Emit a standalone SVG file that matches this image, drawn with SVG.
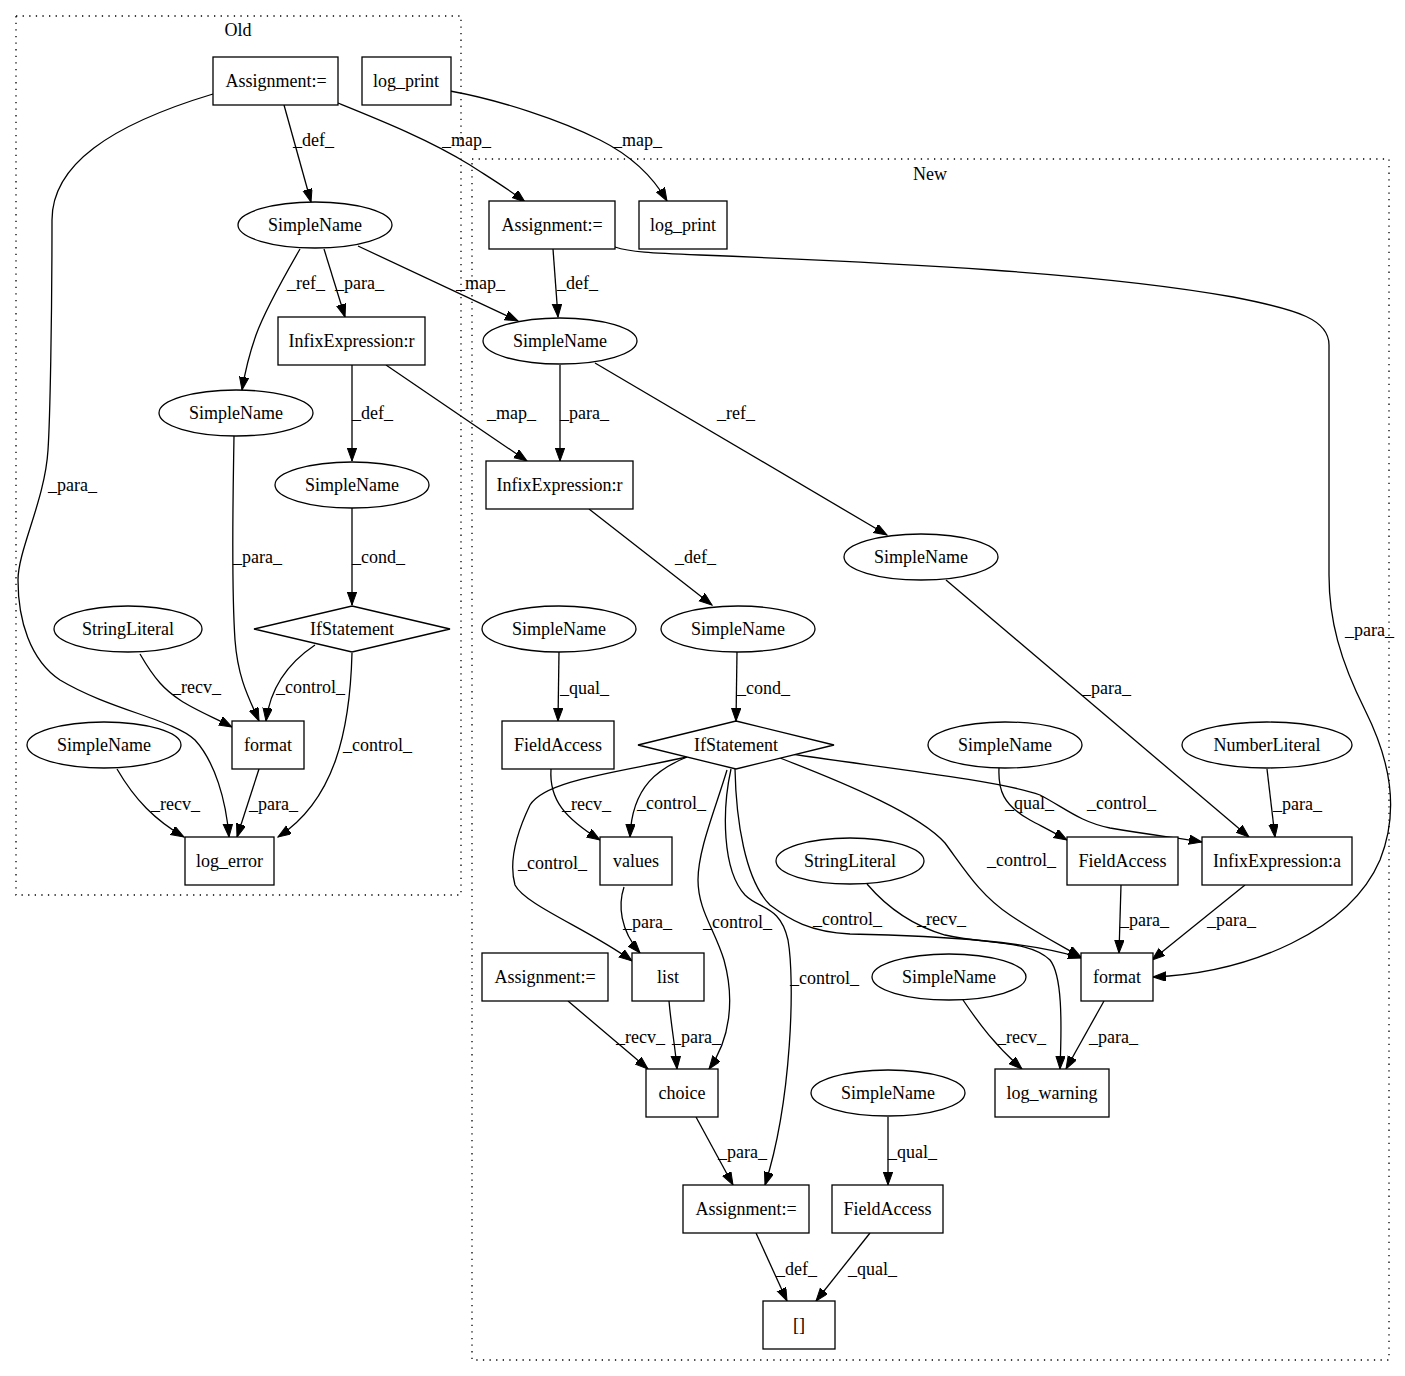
<svg xmlns="http://www.w3.org/2000/svg" width="1405" height="1376" viewBox="0 0 1405 1376">
<defs>
<marker id="ah" markerUnits="userSpaceOnUse" markerWidth="14" markerHeight="11" refX="13" refY="4.7" orient="auto">
<path d="M0,0 L13,4.7 L0,9.4 z" fill="#000" stroke="#000" stroke-width="1"/>
</marker>
</defs>
<style>
text{font-family:"Liberation Serif","Times New Roman",serif;font-size:18px;fill:#000}
.n text{text-anchor:middle}
.n rect,.n ellipse,.n polygon{fill:#fff;stroke:#000;stroke-width:1.3}
.cl{fill:none;stroke:#000;stroke-width:1.3;stroke-dasharray:1.3,5.3}
#edges path{fill:none;stroke:#000;stroke-width:1.3;marker-end:url(#ah)}
</style>
<rect width="1405" height="1376" fill="#fff"/>
<g id="cluster-old"><rect class="cl" x="16" y="16" width="445" height="879"/><text x="238" y="36" text-anchor="middle">Old</text></g>
<g id="cluster-new"><rect class="cl" x="472" y="159" width="917" height="1201"/><text x="930" y="180" text-anchor="middle">New</text></g>

<g id="edges">
<path d="M284,105 L311,202"/><text x="293" y="146">_def_</text>
<path d="M213,94 C110,125 52,165 52,220 C52,320 50,420 48,450 C45,500 18,550 18,580 C18,620 30,660 60,680 C110,710 175,720 195,740 C215,762 226,800 229,837"/><text x="48" y="491">_para_</text>
<path d="M338,103 C380,120 430,140 470,165 C490,178 510,190 525,202"/><text x="442" y="146">_map_</text>
<path d="M450,91 C500,100 560,120 600,140 C630,155 652,175 667,201"/><text x="613" y="146">_map_</text>
<path d="M358,246 L518,321"/><text x="456" y="289">_map_</text>
<path d="M324,249 L345,317"/><text x="335" y="289">_para_</text>
<path d="M300,249 C285,275 265,310 256,335 C250,352 245,372 242,390"/><text x="287" y="289">_ref_</text>
<path d="M352,365 L352,461"/><text x="352" y="419">_def_</text>
<path d="M386,365 L527,461"/><text x="487" y="419">_map_</text>
<path d="M234,436 C233,500 231,580 235,640 C238,680 250,700 259,721"/><text x="233" y="563">_para_</text>
<path d="M352,508 L352,605"/><text x="352" y="563">_cond_</text>
<path d="M140,654 C155,680 165,690 180,700 C195,710 215,718 232,727"/><text x="172" y="693">_recv_</text>
<path d="M315,645 C285,665 270,690 266,721"/><text x="276" y="693">_control_</text>
<path d="M352,653 C350,730 335,800 278,837"/><text x="343" y="751">_control_</text>
<path d="M117,769 C135,800 155,820 184,837"/><text x="151" y="810">_recv_</text>
<path d="M259,769 L237,837"/><text x="249" y="810">_para_</text>

<path d="M553,249 L558,317"/><text x="557" y="289">_def_</text>
<path d="M615,247 C630,252 650,253 700,255 C900,263 1100,273 1233,297 C1300,310 1329,320 1329,345 L1329,575 C1329,620 1340,660 1365,710 C1390,760 1400,810 1380,860 C1350,930 1250,973 1153,977"/><text x="1345" y="636">_para_</text>
<path d="M560,365 L560,461"/><text x="560" y="419">_para_</text>
<path d="M595,363 L887,535"/><text x="717" y="419">_ref_</text>
<path d="M589,509 L712,605"/><text x="675" y="563">_def_</text>
<path d="M946,580 L1249,837"/><text x="1082" y="694">_para_</text>
<path d="M559,652 L558,721"/><text x="560" y="694">_qual_</text>
<path d="M737,652 L736,721"/><text x="737" y="694">_cond_</text>
<path d="M551,769 C549,800 565,818 600,840"/><text x="562" y="810">_recv_</text>
<path d="M687,757 C660,768 632,785 630,837"/><text x="637" y="809">_control_</text>
<path d="M687,757 C620,772 545,780 530,805 C518,830 508,860 515,885 C525,905 590,930 632,961"/><text x="518" y="869">_control_</text>
<path d="M624,887 C618,905 620,930 640,953"/><text x="623" y="928">_para_</text>
<path d="M727,770 C715,810 698,850 698,880 C698,910 715,930 724,960 C735,1000 730,1040 709,1069"/><text x="703" y="928">_control_</text>
<path d="M731,769 C722,810 722,870 745,895 C760,910 780,905 788,940 C795,980 792,1100 765,1185"/><text x="790" y="984">_control_</text>
<path d="M735,769 C736,820 745,880 770,905 C790,920 810,932 850,934 C950,936 1030,942 1081,958"/><text x="813" y="925">_control_</text>
<path d="M780,758 C850,785 920,815 945,843 C965,870 980,895 1010,915 C1035,932 1060,945 1081,957"/><text x="987" y="866">_control_</text>
<path d="M792,754 C860,765 1000,780 1040,795 C1065,808 1080,822 1110,828 C1150,835 1180,838 1202,842"/><text x="1087" y="809">_control_</text>
<path d="M999,768 C998,790 1003,805 1030,820 C1045,828 1055,833 1067,840"/><text x="1005" y="809">_qual_</text>
<path d="M1121,885 L1119,953"/><text x="1120" y="926">_para_</text>
<path d="M1245,885 L1152,960"/><text x="1207" y="926">_para_</text>
<path d="M1267,769 L1275,837"/><text x="1273" y="810">_para_</text>
<path d="M867,884 C885,905 910,925 945,935 C990,945 1030,940 1050,960 C1062,975 1062,1020 1060,1069"/><text x="917" y="925">_recv_</text>
<path d="M963,1000 C980,1025 995,1045 1022,1069"/><text x="997" y="1043">_recv_</text>
<path d="M1104,1001 L1066,1069"/><text x="1089" y="1043">_para_</text>
<path d="M568,1001 C590,1020 620,1045 648,1069"/><text x="616" y="1043">_recv_</text>
<path d="M669,1001 C671,1025 675,1045 677,1069"/><text x="672" y="1043">_para_</text>
<path d="M696,1117 L733,1185"/><text x="718" y="1158">_para_</text>
<path d="M888,1117 L888,1185"/><text x="888" y="1158">_qual_</text>
<path d="M756,1233 L787,1301"/><text x="776" y="1275">_def_</text>
<path d="M870,1233 L816,1301"/><text x="848" y="1275">_qual_</text>
</g>

<g id="o_assign" class="n"><rect x="213" y="57" width="125" height="48"/><text x="276" y="87">Assignment:=</text></g>
<g id="o_logprint" class="n"><rect x="362" y="57" width="89" height="48"/><text x="406" y="87">log_print</text></g>
<g id="o_sn1" class="n"><ellipse cx="315" cy="225" rx="77" ry="23"/><text x="315" y="231">SimpleName</text></g>
<g id="o_infix" class="n"><rect x="278" y="317" width="147" height="48"/><text x="351.5" y="347">InfixExpression:r</text></g>
<g id="o_sn2" class="n"><ellipse cx="236" cy="413" rx="77" ry="23"/><text x="236" y="419">SimpleName</text></g>
<g id="o_sn3" class="n"><ellipse cx="352" cy="485" rx="77" ry="23"/><text x="352" y="491">SimpleName</text></g>
<g id="o_if" class="n"><polygon points="352,606 450,629 352,652 254,629"/><text x="352" y="635">IfStatement</text></g>
<g id="o_strlit" class="n"><ellipse cx="128" cy="629" rx="74" ry="23"/><text x="128" y="635">StringLiteral</text></g>
<g id="o_format" class="n"><rect x="232" y="721" width="72" height="48"/><text x="268" y="751">format</text></g>
<g id="o_sn4" class="n"><ellipse cx="104" cy="745" rx="77" ry="23"/><text x="104" y="751">SimpleName</text></g>
<g id="o_logerror" class="n"><rect x="185" y="837" width="89" height="48"/><text x="229.5" y="867">log_error</text></g>

<g id="n_assign" class="n"><rect x="489" y="201" width="126" height="48"/><text x="552" y="231">Assignment:=</text></g>
<g id="n_logprint" class="n"><rect x="639" y="201" width="88" height="48"/><text x="683" y="231">log_print</text></g>
<g id="n_sn1" class="n"><ellipse cx="560" cy="341" rx="77" ry="23"/><text x="560" y="347">SimpleName</text></g>
<g id="n_infix" class="n"><rect x="486" y="461" width="147" height="48"/><text x="559.5" y="491">InfixExpression:r</text></g>
<g id="n_sn_ref" class="n"><ellipse cx="921" cy="557" rx="77" ry="23"/><text x="921" y="563">SimpleName</text></g>
<g id="n_sn_qual" class="n"><ellipse cx="559" cy="629" rx="77" ry="23"/><text x="559" y="635">SimpleName</text></g>
<g id="n_sn_cond" class="n"><ellipse cx="738" cy="629" rx="77" ry="23"/><text x="738" y="635">SimpleName</text></g>
<g id="n_fa1" class="n"><rect x="502" y="721" width="112" height="48"/><text x="558" y="751">FieldAccess</text></g>
<g id="n_if" class="n"><polygon points="736,721 834,745 736,769 638,745"/><text x="736" y="751">IfStatement</text></g>
<g id="n_values" class="n"><rect x="600" y="837" width="72" height="48"/><text x="636" y="867">values</text></g>
<g id="n_list" class="n"><rect x="632" y="953" width="72" height="48"/><text x="668" y="983">list</text></g>
<g id="n_assign2" class="n"><rect x="482" y="953" width="126" height="48"/><text x="545" y="983">Assignment:=</text></g>
<g id="n_choice" class="n"><rect x="646" y="1069" width="72" height="48"/><text x="682" y="1099">choice</text></g>
<g id="n_assign3" class="n"><rect x="683" y="1185" width="126" height="48"/><text x="746" y="1215">Assignment:=</text></g>
<g id="n_fa2" class="n"><rect x="832" y="1185" width="111" height="48"/><text x="887.5" y="1215">FieldAccess</text></g>
<g id="n_sn_b" class="n"><ellipse cx="888" cy="1093" rx="77" ry="23"/><text x="888" y="1099">SimpleName</text></g>
<g id="n_arr" class="n"><rect x="763" y="1301" width="72" height="48"/><text x="799" y="1331">[]</text></g>
<g id="n_strlit" class="n"><ellipse cx="850" cy="861" rx="74" ry="23"/><text x="850" y="867">StringLiteral</text></g>
<g id="n_sn_m" class="n"><ellipse cx="949" cy="977" rx="77" ry="23"/><text x="949" y="983">SimpleName</text></g>
<g id="n_logwarn" class="n"><rect x="995" y="1069" width="114" height="48"/><text x="1052" y="1099">log_warning</text></g>
<g id="n_format" class="n"><rect x="1081" y="953" width="72" height="48"/><text x="1117" y="983">format</text></g>
<g id="n_fa3" class="n"><rect x="1067" y="837" width="111" height="48"/><text x="1122.5" y="867">FieldAccess</text></g>
<g id="n_infixa" class="n"><rect x="1202" y="837" width="150" height="48"/><text x="1277" y="867">InfixExpression:a</text></g>
<g id="n_sn_r" class="n"><ellipse cx="1005" cy="745" rx="77" ry="23"/><text x="1005" y="751">SimpleName</text></g>
<g id="n_numlit" class="n"><ellipse cx="1267" cy="745" rx="85" ry="23"/><text x="1267" y="751">NumberLiteral</text></g>
</svg>
